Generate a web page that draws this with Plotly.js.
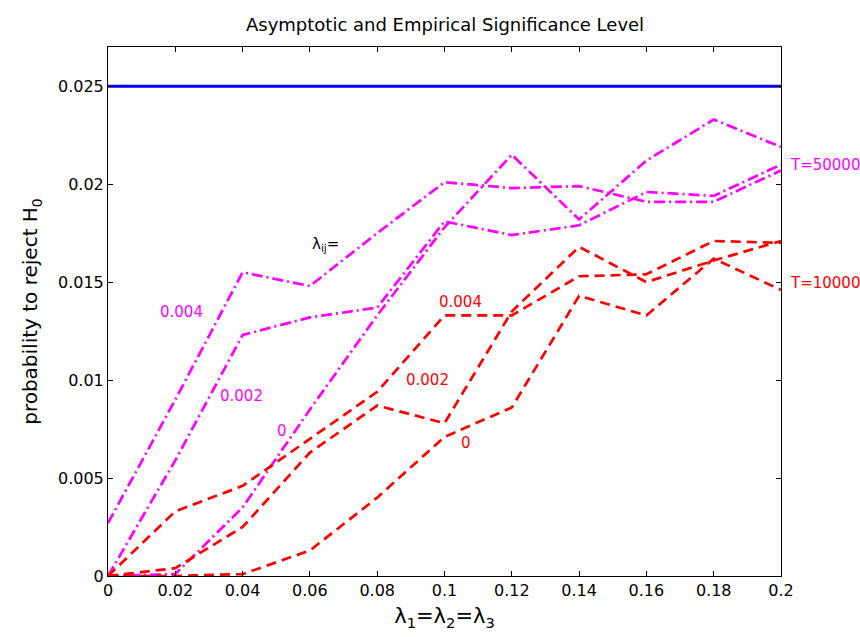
<!DOCTYPE html>
<html>
<head>
<meta charset="utf-8">
<script src="https://cdn.plot.ly/plotly-3.0.1.min.js"></script>
<style>
  html, body { margin: 0; padding: 0; background: #fff; }
  #chart { width: 860px; height: 637px; }
</style>
</head>
<body>
<div id="chart"></div>
<script>
// lambda_1 = lambda_2 = lambda_3
const lambdaValues = [0, 0.02, 0.04, 0.06, 0.08, 0.1, 0.12, 0.14, 0.16, 0.18, 0.2];

// Asymptotic significance level
const asymptoticX = [0, 0.2];
const asymptoticLevel = [0.025, 0.025];

// T = 50000 (magenta, dash-dot), lambda_ij = 0, 0.002, 0.004
const t50000_l0   = [0, 0.0001, 0.0035, 0.0085, 0.0133, 0.0178, 0.0215, 0.0182, 0.0212, 0.0233, 0.0219];
const t50000_l002 = [0, 0.0059, 0.0123, 0.0132, 0.0137, 0.0181, 0.0174, 0.0179, 0.0196, 0.0194, 0.0210];
const t50000_l004 = [0.0027, 0.0090, 0.0155, 0.0148, 0.0175, 0.0201, 0.0198, 0.0199, 0.0191, 0.0191, 0.0207];

// T = 10000 (red, dashed), lambda_ij = 0, 0.002, 0.004
const t10000_l0   = [0, 0, 0.0001, 0.0013, 0.0040, 0.0071, 0.0086, 0.0143, 0.0133, 0.0162, 0.0146];
const t10000_l002 = [0, 0.0004, 0.0025, 0.0063, 0.0087, 0.0078, 0.0135, 0.0168, 0.0150, 0.0161, 0.0171];
const t10000_l004 = [0, 0.0033, 0.0046, 0.0070, 0.0094, 0.0133, 0.0133, 0.0153, 0.0154, 0.0171, 0.0170];

// Tick labels
const xTickVals = [0, 0.02, 0.04, 0.06, 0.08, 0.1, 0.12, 0.14, 0.16, 0.18, 0.2];
const xTickText = ['0', '0.02', '0.04', '0.06', '0.08', '0.1', '0.12', '0.14', '0.16', '0.18', '0.2'];
const yTickVals = [0, 0.005, 0.01, 0.015, 0.02, 0.025];
const yTickText = ['0', '0.005', '0.01', '0.015', '0.02', '0.025'];

const MAGENTA = '#ff00ff';
const RED = '#ff0000';
const BLUE = '#0000ff';
const FONT = 'DejaVu Sans, Liberation Sans, Arial, sans-serif';

const dashdot = '11px,4px,2px,4px';
const dashed = '10px,6px';

function series(y, color, dash, name) {
  return {
    x: lambdaValues, y: y, type: 'scatter', mode: 'lines', name: name,
    line: { color: color, width: 2.7, dash: dash }, hoverinfo: 'x+y'
  };
}

const traces = [
  { x: asymptoticX, y: asymptoticLevel, type: 'scatter', mode: 'lines', name: 'asymptotic',
    line: { color: BLUE, width: 3 } },
  series(t50000_l0, MAGENTA, dashdot, 'T=50000, λij=0'),
  series(t50000_l002, MAGENTA, dashdot, 'T=50000, λij=0.002'),
  series(t50000_l004, MAGENTA, dashdot, 'T=50000, λij=0.004'),
  series(t10000_l0, RED, dashed, 'T=10000, λij=0'),
  series(t10000_l002, RED, dashed, 'T=10000, λij=0.002'),
  series(t10000_l004, RED, dashed, 'T=10000, λij=0.004')
];

function label(text, x, y, color, xref) {
  return { text: text, x: x, y: y, xref: xref || 'x', yref: 'y', showarrow: false,
    font: { family: FONT, size: 15, color: color }, xanchor: 'center', yanchor: 'middle' };
}

const annotations = [
  label('λ<sub>ij</sub>=', 0.0645, 0.0169, '#000000'),
  label('0.004', 0.0218, 0.0135, MAGENTA),
  label('0.002', 0.0398, 0.0092, MAGENTA),
  label('0', 0.0517, 0.0074, MAGENTA),
  label('0.004', 0.1049, 0.0140, RED),
  label('0.002', 0.0948, 0.0100, RED),
  label('0', 0.1064, 0.0068, RED),
  Object.assign(label('T=50000', 1.01, 0.0210, MAGENTA, 'paper'), { xanchor: 'left' }),
  Object.assign(label('T=10000', 1.01, 0.01495, RED, 'paper'), { xanchor: 'left' })
];

const axisCommon = {
  showgrid: false, zeroline: false, showline: true, linecolor: '#000', linewidth: 1,
  mirror: 'ticks', ticks: 'inside', ticklen: 5, tickcolor: '#000', tickwidth: 1,
  tickfont: { family: FONT, size: 16, color: '#000' }
};

const layout = {
  width: 860, height: 637,
  margin: { l: 108, r: 79, t: 47, b: 61 },
  paper_bgcolor: '#fff', plot_bgcolor: '#fff',
  showlegend: false,
  font: { family: FONT, color: '#000' },
  title: { text: 'Asymptotic and Empirical Significance Level',
    font: { family: FONT, size: 18, color: '#000' },
    x: 0.5175, xanchor: 'center', y: 1 - 25 / 637, yanchor: 'middle', yref: 'container' },
  xaxis: Object.assign({}, axisCommon, {
    range: [0, 0.2], tickvals: xTickVals, ticktext: xTickText,
    title: { text: 'λ<sub>1</sub>=λ<sub>2</sub>=λ<sub>3</sub>', font: { family: FONT, size: 21, color: '#000' }, standoff: 9 }
  }),
  yaxis: Object.assign({}, axisCommon, {
    range: [0, 0.027], tickvals: yTickVals, ticktext: yTickText,
    title: { text: 'probability to reject H<sub>0</sub>', font: { family: FONT, size: 20, color: '#000' }, standoff: 14 }
  }),
  annotations: annotations
};

Plotly.newPlot('chart', traces, layout, { displayModeBar: false, staticPlot: true });
</script>
</body>
</html>
